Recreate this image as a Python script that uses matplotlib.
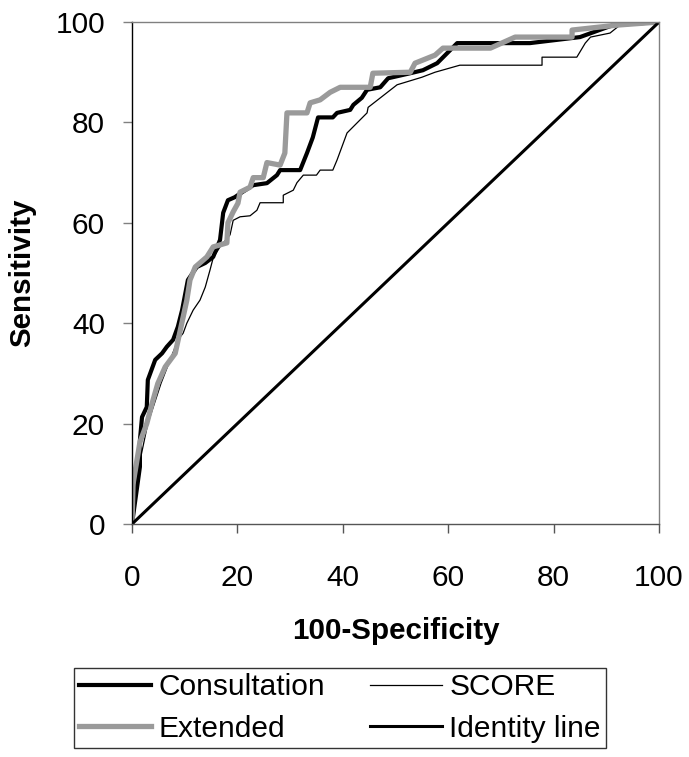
import matplotlib.pyplot as plt
import numpy as np

plt.rcParams['font.family'] = ['Liberation Sans', 'DejaVu Sans']

# curvas ROC (x = 100-especificidad, y = sensibilidad)
cons_x = [0, 1.5, 1.5, 1.9, 2.8, 3.0, 4.4, 5.7, 6.6, 7.8, 8.7, 9.5, 10.6, 12.3, 13.9, 15.4, 16.7,
          17.3, 18.2, 19.5, 20.9, 23.0, 25.6, 27.5, 28.1, 31.9, 33.2, 34.3, 35.3, 38.1, 38.9, 41.4,
          42.0, 43.6, 44.6, 47.1, 48.6, 52.8, 55.2, 57.9, 61.7, 67.4, 75.5, 85.0, 91.3, 100]
cons_y = [0, 11.4, 16.7, 21.3, 23.3, 28.7, 32.7, 34.0, 35.3, 36.7, 39.3, 42.6, 48.6, 51.2, 52.0,
          53.2, 56.6, 62.0, 64.5, 65.1, 66.1, 67.5, 67.9, 69.5, 70.5, 70.5, 73.9, 77.0, 81.0, 81.0,
          81.9, 82.5, 83.5, 84.9, 86.5, 87.0, 88.8, 89.8, 90.4, 91.8, 95.8, 95.8, 95.8, 97.0, 99.4, 100]

ext_x = [0, 0.2, 1.5, 2.8, 3.8, 4.9, 6.3, 8.2, 10.4, 11.0, 12.0, 14.2, 15.4, 18.0, 18.2, 19.2,
         20.1, 20.5, 22.4, 23.0, 24.9, 25.6, 28.1, 29.0, 29.4, 33.2, 33.8, 35.7, 37.6, 39.5, 45.2,
         45.7, 52.8, 53.7, 57.5, 59.0, 68.0, 72.7, 83.5, 83.5, 92.2, 100]
ext_y = [0, 8.0, 16.3, 20.0, 24.0, 28.0, 31.3, 34.0, 44.6, 48.6, 51.2, 53.2, 55.2, 56.0, 60.0,
         62.2, 63.9, 66.1, 67.1, 69.0, 69.0, 72.0, 71.5, 73.9, 81.9, 81.9, 83.9, 84.5, 86.0, 87.0,
         87.0, 89.8, 90.0, 91.8, 93.4, 94.8, 94.8, 97.0, 97.0, 98.4, 99.4, 100]

score_x = [0, 1.0, 3.0, 5.5, 8.2, 8.7, 9.7, 10.4, 11.6, 12.9, 13.9, 14.8, 15.4, 16.7, 18.6, 19.2,
           20.5, 22.4, 23.7, 24.3, 28.7, 28.7, 30.6, 31.3, 32.5, 35.0, 35.7, 38.1, 38.9, 40.8,
           44.6, 44.8, 50.3, 55.0, 57.5, 62.2, 77.8, 77.8, 84.4, 86.0, 87.0, 90.7, 92.6, 100]
score_y = [0, 10.0, 20.0, 28.0, 35.3, 36.7, 38.0, 40.0, 42.6, 44.6, 47.2, 50.6, 53.0, 55.2, 57.6,
           60.5, 61.2, 61.4, 62.5, 64.0, 64.0, 65.5, 66.5, 68.0, 69.5, 69.5, 70.5, 70.5, 72.5,
           77.9, 81.9, 83.0, 87.5, 89.0, 90.0, 91.4, 91.4, 93.0, 93.0, 95.8, 97.0, 97.8, 99.4, 100]

ident = [0, 100]

fig = plt.figure(figsize=(6.89, 7.57), dpi=100)
ax = fig.add_axes([0.1916, 0.3078, 0.7649, 0.6631])

l1, = ax.plot(cons_x, cons_y, color='black', lw=3.0, label='Consultation')
l3, = ax.plot(score_x, score_y, color='black', lw=0.9, label='SCORE')
l2, = ax.plot(ext_x, ext_y, color='#9a9a9a', lw=3.8, label='Extended')
l4, = ax.plot(ident, ident, color='black', lw=2.2, label='Identity line')

ax.set_xlim(0, 100)
ax.set_ylim(0, 100)
ax.set_xticks(np.arange(0, 101, 20))
ax.set_yticks(np.arange(0, 101, 20))
ax.tick_params(direction='out', length=6.5, width=1, labelsize=21.5, labelcolor='black')
ax.tick_params(axis='x', color='#555555', pad=22)
ax.tick_params(axis='y', color='#808080', pad=13)
for s in ['top', 'right']:
    ax.spines[s].set_color('#808080')
ax.spines['bottom'].set_color('#555555')
ax.spines['left'].set_color('black')
for s in ax.spines.values():
    s.set_linewidth(1.0)

ax.set_xlabel('100-Specificity', fontsize=21.3, fontweight='bold', labelpad=18)
ax.set_ylabel('Sensitivity', fontsize=21.3, fontweight='bold', labelpad=14)

leg = fig.legend(handles=[l1, l2, l3, l4], labels=['Consultation', 'Extended', 'SCORE', 'Identity line'],
                 ncol=2, loc='upper left', bbox_to_anchor=(74 / 689, 0, 532 / 689, 1 - 668 / 757),
                 mode='expand', fontsize=21.5, frameon=True, fancybox=False, edgecolor='black',
                 handlelength=2.4, handletextpad=0.25, columnspacing=0.5, borderaxespad=0,
                 borderpad=0.18, labelspacing=0.45)
leg.get_frame().set_linewidth(1.0)

fig.savefig('out.png', dpi=100)
